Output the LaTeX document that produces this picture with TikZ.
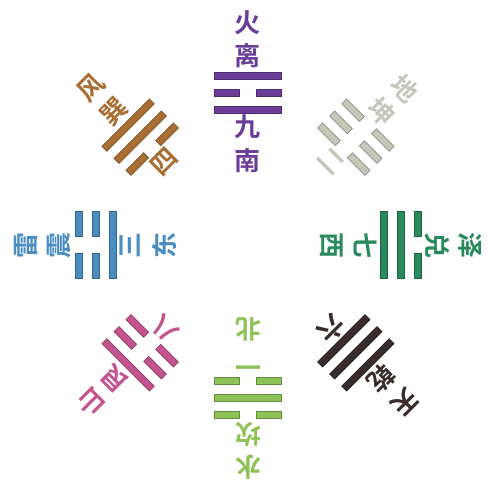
\documentclass[tikz,border=0pt]{standalone}
\usepackage{fontspec}
\newfontfamily\cjk[BoldFont={Noto Sans CJK SC Bold}]{Noto Sans CJK SC}
\usepackage{tikz}
\definecolor{licol}{HTML}{6B3D99}
\definecolor{kuncol}{HTML}{C4C8B8}
\definecolor{duicol}{HTML}{2B8A5B}
\definecolor{qiancol}{HTML}{3A2C2D}
\definecolor{kancol}{HTML}{8DC257}
\definecolor{gencol}{HTML}{C4548F}
\definecolor{zhencol}{HTML}{4B8CC1}
\definecolor{xuncol}{HTML}{A86E34}
\tikzset{
  % --- one line of a trigram ---
  yao/.style={fill=#1, draw=#1!72!black, line width=0.7pt},
  % --- characters round the trigram ---
  guatext/.style={text=#1, inner sep=0pt,
                  font=\cjk\bfseries\fontsize{26}{26}\selectfont},
}
% #1 = 1 solid / 0 broken, #2 = radius, #3 = colour
\newcommand\yaoline[3]{%
  \ifnum#1=1
    \path[yao=#3] (-33.5,#2-3.5) rectangle (33.5,#2+3.5);
  \else
    \path[yao=#3] (-33.5,#2-3.5) rectangle (-8.5,#2+3.5);
    \path[yao=#3] (8.5,#2-3.5) rectangle (33.5,#2+3.5);
  \fi}

\begin{document}
\begin{tikzpicture}[x=1pt, y=1pt]
  \useasboundingbox (-248,-246) rectangle (244,245);
  % angle / colour / lines outer->inner / outer texts / inner texts / has direction
  \foreach \ang/\col/\ya/\yb/\yc/\oa/\ob/\ia/\ib/\nd/\nm in {
      90/licol/1/0/1/火/离/九/南/1/li,
      45/kuncol/0/0/0/地/坤/二/{}/0/kun,
      0/duicol/0/1/1/泽/兑/七/西/1/dui,
      -45/qiancol/1/1/1/天/乾/六/{}/0/qian,
      -90/kancol/0/1/0/水/坎/一/北/1/kan,
      -135/gencol/1/0/0/山/艮/八/{}/0/gen,
      180/zhencol/0/0/1/雷/震/三/东/1/zhen,
      135/xuncol/1/1/0/风/巽/四/{}/0/xun}{
    \begin{scope}[rotate=\ang-90, transform shape]
      \yaoline{\ya}{169.5}{\col}
      \yaoline{\yb}{152.5}{\col}
      \yaoline{\yc}{135.5}{\col}
      \node[guatext=\col] (\nm-elem) at (0,222) {\oa};
      \node[guatext=\col] (\nm-name) at (0,189) {\ob};
      \node[guatext=\col] (\nm-num) at (0,118) {\ia};
      \ifnum\nd=1
        \node[guatext=\col] (\nm-dir) at (0,84) {\ib};
      \fi
    \end{scope}
  }
\end{tikzpicture}
\end{document}
